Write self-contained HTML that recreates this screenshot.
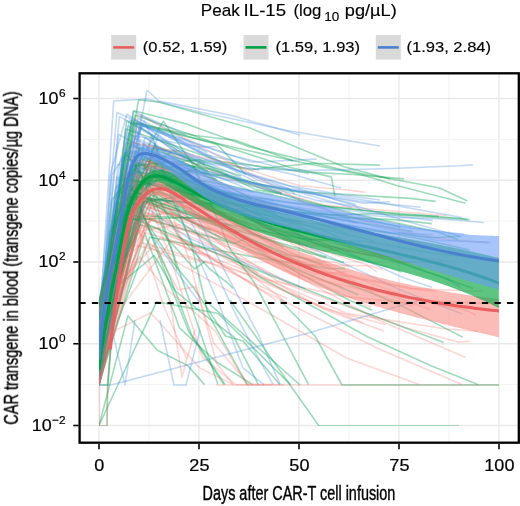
<!DOCTYPE html>
<html><head><meta charset="utf-8"><style>
html,body{margin:0;padding:0;background:#fff;}
svg{display:block;font-family:"Liberation Sans",sans-serif;}
.txt{will-change:transform;}
</style></head><body>
<svg width="520" height="506" viewBox="0 0 520 506">
<defs><filter id="soft" x="-5%" y="-5%" width="110%" height="110%"><feGaussianBlur stdDeviation="0.25"/></filter><filter id="soft3" x="0" y="0" width="100%" height="100%"><feGaussianBlur stdDeviation="0.35"/></filter><filter id="soft2" x="0" y="0" width="100%" height="100%"><feGaussianBlur stdDeviation="0.45"/></filter></defs>
<rect width="520" height="506" fill="#fff"/>
<g><line x1="99" y1="73" x2="99" y2="443" stroke="#E9E9E9" stroke-width="1.3"/><line x1="149.0" y1="73" x2="149.0" y2="443" stroke="#F3F3F3" stroke-width="1"/><line x1="199" y1="73" x2="199" y2="443" stroke="#E9E9E9" stroke-width="1.3"/><line x1="249.0" y1="73" x2="249.0" y2="443" stroke="#F3F3F3" stroke-width="1"/><line x1="299" y1="73" x2="299" y2="443" stroke="#E9E9E9" stroke-width="1.3"/><line x1="349.0" y1="73" x2="349.0" y2="443" stroke="#F3F3F3" stroke-width="1"/><line x1="399" y1="73" x2="399" y2="443" stroke="#E9E9E9" stroke-width="1.3"/><line x1="449.0" y1="73" x2="449.0" y2="443" stroke="#F3F3F3" stroke-width="1"/><line x1="499" y1="73" x2="499" y2="443" stroke="#E9E9E9" stroke-width="1.3"/><line x1="80" y1="425.50" x2="518" y2="425.50" stroke="#E9E9E9" stroke-width="1.3"/><line x1="80" y1="384.62" x2="518" y2="384.62" stroke="#F3F3F3" stroke-width="1"/><line x1="80" y1="343.75" x2="518" y2="343.75" stroke="#E9E9E9" stroke-width="1.3"/><line x1="80" y1="302.88" x2="518" y2="302.88" stroke="#F3F3F3" stroke-width="1"/><line x1="80" y1="262.00" x2="518" y2="262.00" stroke="#E9E9E9" stroke-width="1.3"/><line x1="80" y1="221.12" x2="518" y2="221.12" stroke="#F3F3F3" stroke-width="1"/><line x1="80" y1="180.25" x2="518" y2="180.25" stroke="#E9E9E9" stroke-width="1.3"/><line x1="80" y1="139.38" x2="518" y2="139.38" stroke="#F3F3F3" stroke-width="1"/><line x1="80" y1="98.50" x2="518" y2="98.50" stroke="#E9E9E9" stroke-width="1.3"/></g>
<g fill="none" stroke-width="1.6" stroke-linejoin="round" filter="url(#soft2)"><path d="M99.0,425.5 L156.7,301.7 L191.1,308.3 L218.0,313.5 L255.6,350.1 L290.5,384.6" stroke="#05A050" stroke-opacity="0.38"/><path d="M99.0,384.6 L136.9,172.9 L255.2,234.5 L271.5,242.6" stroke="#F07068" stroke-opacity="0.28"/><path d="M99.0,384.6 L139.0,149.8 L157.8,208.7 L195.5,318.2 L217.9,384.6" stroke="#05A050" stroke-opacity="0.38"/><path d="M99.0,384.6 L144.8,233.2 L179.5,327.8 L216.1,361.7 L252.7,384.6" stroke="#05A050" stroke-opacity="0.38"/><path d="M99.0,367.8 L146.1,182.9 L234.8,194.3 L288.9,202.4 L372.1,211.2 L459.9,218.3 L467.3,219.5" stroke="#05A050" stroke-opacity="0.38"/><path d="M99.0,356.3 L117.0,176.6 L139.0,214.6 L174.3,268.5 L199.8,302.9" stroke="#4A8EE0" stroke-opacity="0.33"/><path d="M99.0,310.1 L122.3,213.3 L128.3,174.4 L217.7,200.9 L281.3,209.0 L358.5,223.3" stroke="#4A8EE0" stroke-opacity="0.33"/><path d="M99.0,374.5 L151.9,149.1 L212.3,194.2 L275.7,223.0 L381.8,257.7 L444.2,277.2 L460.5,287.2" stroke="#4A8EE0" stroke-opacity="0.33"/><path d="M99.0,357.6 L116.4,198.6 L133.4,111.0 L187.3,140.6 L207.4,152.9" stroke="#4A8EE0" stroke-opacity="0.33"/><path d="M99.0,302.0 L118.9,204.0 L150.5,175.1 L203.6,202.3" stroke="#F07068" stroke-opacity="0.28"/><path d="M99.0,366.7 L126.3,196.3 L186.6,202.9" stroke="#05A050" stroke-opacity="0.38"/><path d="M99.0,307.7 L133.8,110.7 L185.2,123.6 L248.7,146.6 L344.0,170.3 L438.9,187.7 L467.5,201.0" stroke="#05A050" stroke-opacity="0.38"/><path d="M99.0,325.0 L117.2,274.4 L139.8,214.6 L176.8,213.2" stroke="#F07068" stroke-opacity="0.28"/><path d="M99.0,384.6 L139.7,148.6 L249.8,201.1 L296.4,214.6" stroke="#F07068" stroke-opacity="0.28"/><path d="M99.0,348.2 L154.5,206.8 L174.4,201.2" stroke="#F07068" stroke-opacity="0.28"/><path d="M99.0,299.9 L132.1,199.8 L232.1,204.2 L350.1,225.8 L416.2,238.0 L469.7,250.0" stroke="#05A050" stroke-opacity="0.38"/><path d="M99.0,384.6 L141.0,231.5 L210.3,250.9 L267.5,279.7 L342.0,296.1 L416.8,303.9" stroke="#F07068" stroke-opacity="0.28"/><path d="M99.0,320.9 L137.7,181.0 L237.2,204.5 L333.1,215.3 L374.2,213.5 L469.7,219.6" stroke="#05A050" stroke-opacity="0.38"/><path d="M99.0,331.1 L139.7,147.7 L219.1,175.2 L228.2,174.9" stroke="#05A050" stroke-opacity="0.38"/><path d="M99.0,384.6 L140.0,158.7 L198.3,179.3 L318.1,234.9 L378.0,254.2 L473.1,288.5" stroke="#05A050" stroke-opacity="0.38"/><path d="M99.0,320.8 L118.6,134.5 L172.7,163.1 L223.1,195.7 L277.8,214.4" stroke="#4A8EE0" stroke-opacity="0.33"/><path d="M99.0,384.6 L139.3,162.3 L222.6,194.9 L329.7,221.1 L424.6,247.6" stroke="#05A050" stroke-opacity="0.38"/><path d="M99.0,384.6 L111.6,337.3 L149.8,237.2 L257.9,257.7 L330.0,268.6 L345.1,268.4" stroke="#05A050" stroke-opacity="0.38"/><path d="M99.0,384.6 L146.9,166.1 L187.1,172.2 L243.8,213.6 L320.6,257.1 L325.9,257.7" stroke="#F07068" stroke-opacity="0.28"/><path d="M99.0,384.6 L151.3,165.7 L222.2,207.1 L290.2,238.8 L402.6,262.4 L455.5,261.0" stroke="#F07068" stroke-opacity="0.28"/><path d="M99.0,301.8 L154.1,255.5 L174.8,290.5 L201.9,312.9 L233.8,336.9 L258.4,384.6" stroke="#05A050" stroke-opacity="0.38"/><path d="M99.0,355.8 L115.9,275.9 L158.0,194.0 L243.3,262.0 L257.9,273.5" stroke="#F07068" stroke-opacity="0.28"/><path d="M99.0,384.6 L141.1,122.7 L216.0,180.0" stroke="#4A8EE0" stroke-opacity="0.33"/><path d="M99.0,335.6 L114.4,268.7 L136.9,123.1 L252.1,162.2 L316.4,159.1" stroke="#4A8EE0" stroke-opacity="0.33"/><path d="M99.0,342.5 L125.1,152.6 L225.1,179.3 L282.1,193.2" stroke="#4A8EE0" stroke-opacity="0.33"/><path d="M99.0,361.3 L140.9,221.7 L163.4,213.7 L187.1,249.6 L211.5,255.9" stroke="#F07068" stroke-opacity="0.28"/><path d="M99.0,316.7 L145.0,137.4 L231.7,192.3 L274.0,199.9" stroke="#4A8EE0" stroke-opacity="0.33"/><path d="M99.0,375.5 L125.2,193.4 L211.3,230.1" stroke="#05A050" stroke-opacity="0.38"/><path d="M99.0,384.6 L129.4,146.8 L181.5,151.1 L289.3,188.7 L295.2,194.7" stroke="#4A8EE0" stroke-opacity="0.33"/><path d="M99.0,318.9 L140.3,224.8 L159.3,229.3 L194.5,269.0 L205.2,261.4" stroke="#05A050" stroke-opacity="0.38"/><path d="M99.0,302.6 L131.4,120.5 L216.9,144.4 L245.9,174.6" stroke="#05A050" stroke-opacity="0.38"/><path d="M99.0,372.0 L126.6,120.7 L191.0,158.3 L205.2,163.1" stroke="#05A050" stroke-opacity="0.38"/><path d="M99.0,374.3 L143.9,143.3 L205.2,164.2" stroke="#4A8EE0" stroke-opacity="0.33"/><path d="M99.0,384.6 L146.6,188.9 L218.4,237.6 L265.0,259.0 L343.1,287.8" stroke="#F07068" stroke-opacity="0.28"/><path d="M99.0,307.8 L120.1,235.8 L134.2,199.2 L188.5,238.1 L266.3,272.2 L304.9,288.6" stroke="#4A8EE0" stroke-opacity="0.33"/><path d="M99.0,316.2 L159.3,131.7 L263.3,185.8 L359.0,201.1 L420.7,207.3" stroke="#4A8EE0" stroke-opacity="0.33"/><path d="M99.0,384.6 L132.0,222.7 L231.1,258.5 L325.1,309.7 L383.8,331.1" stroke="#F07068" stroke-opacity="0.28"/><path d="M99.0,333.0 L146.1,245.2 L264.3,310.8 L346.0,357.7 L419.2,384.6" stroke="#F07068" stroke-opacity="0.28"/><path d="M99.0,357.0 L129.7,198.2 L200.4,216.8 L291.1,261.5" stroke="#F07068" stroke-opacity="0.28"/><path d="M99.0,384.6 L147.4,186.8 L196.7,207.3" stroke="#F07068" stroke-opacity="0.28"/><path d="M99.0,369.6 L135.9,165.1 L213.6,197.4 L293.2,224.5" stroke="#05A050" stroke-opacity="0.38"/><path d="M99.0,304.8 L141.4,180.4 L206.5,181.1 L322.4,205.7 L400.5,214.5 L438.9,216.4" stroke="#05A050" stroke-opacity="0.38"/><path d="M99.0,342.1 L121.2,275.5 L136.6,163.1 L218.2,199.5 L273.6,217.6 L374.0,240.7" stroke="#05A050" stroke-opacity="0.38"/><path d="M99.0,335.9 L152.9,149.6 L215.5,170.4 L281.0,192.5" stroke="#05A050" stroke-opacity="0.38"/><path d="M99.0,349.3 L138.2,118.3 L204.0,154.2 L292.0,174.2 L339.1,187.6 L341.1,187.4" stroke="#4A8EE0" stroke-opacity="0.33"/><path d="M99.0,369.9 L120.7,279.8 L150.1,145.3 L231.1,179.0 L323.9,205.0 L398.8,211.5 L447.0,215.5" stroke="#F07068" stroke-opacity="0.28"/><path d="M99.0,325.9 L109.8,266.6 L155.0,188.5 L214.3,222.8 L268.8,257.1 L349.0,300.0 L372.3,310.2" stroke="#05A050" stroke-opacity="0.38"/><path d="M99.0,362.2 L122.2,157.8 L230.8,194.3 L343.6,225.1 L382.4,236.0" stroke="#4A8EE0" stroke-opacity="0.33"/><path d="M99.0,371.3 L126.7,174.2 L193.3,182.9 L276.8,212.4" stroke="#F07068" stroke-opacity="0.28"/><path d="M99.0,384.6 L151.7,173.7 L216.0,186.4 L273.6,194.6" stroke="#4A8EE0" stroke-opacity="0.33"/><path d="M99.0,352.9 L132.7,175.0 L173.6,150.9 L208.3,171.7" stroke="#05A050" stroke-opacity="0.38"/><path d="M99.0,306.7 L160.8,237.4 L253.7,273.8 L347.2,313.6 L445.9,329.0 L477.6,331.1" stroke="#F07068" stroke-opacity="0.28"/><path d="M99.0,312.2 L117.0,244.8 L132.4,200.3 L229.1,213.4 L322.6,242.4 L332.6,248.6" stroke="#F07068" stroke-opacity="0.28"/><path d="M99.0,361.2 L134.1,189.5 L162.6,265.8 L188.8,331.8 L223.9,384.6" stroke="#05A050" stroke-opacity="0.38"/><path d="M99.0,369.6 L119.4,248.1 L140.5,164.4 L230.9,202.4 L236.1,205.3" stroke="#05A050" stroke-opacity="0.38"/><path d="M99.0,384.6 L139.0,187.8 L178.8,199.1" stroke="#F07068" stroke-opacity="0.28"/><path d="M99.0,384.6 L116.6,296.6 L137.7,114.5 L189.2,140.2 L308.6,205.1 L402.6,231.6 L447.0,239.5 L487.9,242.6" stroke="#F07068" stroke-opacity="0.28"/><path d="M99.0,340.1 L154.9,210.3 L263.4,236.7 L380.2,257.0 L385.5,259.7" stroke="#F07068" stroke-opacity="0.28"/><path d="M99.0,313.3 L117.8,231.5 L148.3,156.7 L209.6,173.2" stroke="#4A8EE0" stroke-opacity="0.33"/><path d="M99.0,384.6 L141.2,125.7 L226.8,154.0 L269.7,165.1 L308.9,173.8" stroke="#4A8EE0" stroke-opacity="0.33"/><path d="M99.0,384.6 L151.7,165.8 L229.2,177.1 L291.9,191.4 L410.5,198.4 L435.7,201.4" stroke="#05A050" stroke-opacity="0.38"/><path d="M99.0,384.6 L112.1,304.6 L130.0,196.7 L221.4,224.5 L319.6,271.9 L397.9,303.9 L462.6,337.1" stroke="#05A050" stroke-opacity="0.38"/><path d="M99.0,374.4 L125.6,129.0 L221.4,161.6 L306.0,172.1 L353.2,174.5 L404.0,178.9" stroke="#05A050" stroke-opacity="0.38"/><path d="M99.0,384.6 L141.2,211.5 L193.1,232.0 L240.8,266.6 L285.9,302.3" stroke="#F07068" stroke-opacity="0.28"/><path d="M99.0,339.0 L146.4,160.4 L216.5,190.8 L285.4,207.3 L369.0,219.9 L400.5,227.4" stroke="#05A050" stroke-opacity="0.38"/><path d="M99.0,304.8 L135.7,123.2 L193.2,135.3 L235.1,140.3 L293.1,160.8" stroke="#05A050" stroke-opacity="0.38"/><path d="M99.0,358.3 L140.6,188.1 L236.2,219.4 L324.3,245.4 L403.5,259.1" stroke="#F07068" stroke-opacity="0.28"/><path d="M99.0,350.5 L109.1,234.3 L128.6,132.8 L200.0,186.7 L312.5,240.8" stroke="#4A8EE0" stroke-opacity="0.33"/><path d="M99.0,314.7 L142.3,162.2 L216.5,188.8 L277.5,204.9" stroke="#4A8EE0" stroke-opacity="0.33"/><path d="M99.0,310.3 L133.3,178.9 L178.3,193.2" stroke="#05A050" stroke-opacity="0.38"/><path d="M99.0,361.0 L118.7,237.0 L141.7,210.6 L214.8,237.9 L276.1,280.2 L333.5,301.5 L404.2,327.3 L457.9,342.0 L469.8,341.4" stroke="#F07068" stroke-opacity="0.28"/><path d="M99.0,354.9 L134.9,151.3 L249.5,183.1 L364.1,203.2 L389.8,201.8" stroke="#4A8EE0" stroke-opacity="0.33"/><path d="M99.0,320.0 L146.7,160.5 L258.9,223.5 L374.9,293.9 L412.8,306.6" stroke="#F07068" stroke-opacity="0.28"/><path d="M99.0,302.3 L147.7,206.3 L260.4,254.2 L308.1,268.9 L409.9,288.6 L482.9,291.2" stroke="#F07068" stroke-opacity="0.28"/><path d="M99.0,311.8 L135.1,204.3 L172.4,262.0 L194.0,288.2 L225.5,336.0 L243.0,341.1 L279.8,384.6" stroke="#05A050" stroke-opacity="0.38"/><path d="M99.0,369.2 L141.2,174.4 L184.7,197.0 L278.8,247.6 L330.2,269.4" stroke="#F07068" stroke-opacity="0.28"/><path d="M99.0,370.3 L112.2,199.5 L154.5,145.8 L207.5,165.6 L256.1,189.9 L281.9,193.9" stroke="#05A050" stroke-opacity="0.38"/><path d="M99.0,384.6 L133.1,169.4 L216.8,197.9 L277.3,222.6 L368.5,247.4" stroke="#05A050" stroke-opacity="0.38"/><path d="M99.0,320.0 L147.1,175.4 L247.0,226.9 L275.4,239.4" stroke="#F07068" stroke-opacity="0.28"/><path d="M99.0,366.7 L125.0,177.9 L206.9,220.0 L220.3,221.4" stroke="#05A050" stroke-opacity="0.38"/><path d="M99.0,370.9 L116.6,202.2 L135.6,152.6 L236.2,203.4 L326.4,231.8 L340.8,238.2" stroke="#05A050" stroke-opacity="0.38"/><path d="M99.0,366.0 L140.2,139.9 L184.9,158.5" stroke="#4A8EE0" stroke-opacity="0.33"/><path d="M99.0,326.0 L131.0,188.5 L212.9,233.7 L268.2,257.5 L358.4,294.8" stroke="#05A050" stroke-opacity="0.38"/><path d="M99.0,384.6 L117.0,300.5 L138.0,151.3 L197.2,199.8 L288.8,271.6 L375.6,318.8 L465.7,357.4" stroke="#F07068" stroke-opacity="0.28"/><path d="M99.0,323.8 L140.8,165.2 L228.6,209.3" stroke="#F07068" stroke-opacity="0.28"/><path d="M99.0,371.6 L112.9,218.2 L158.0,149.4 L251.8,199.0" stroke="#05A050" stroke-opacity="0.38"/><path d="M99.0,318.7 L152.7,196.2 L199.1,163.1 L241.2,176.1" stroke="#05A050" stroke-opacity="0.38"/><path d="M99.0,324.8 L118.2,197.3 L163.4,121.2 L193.2,165.1 L209.8,201.2 L229.9,248.7 L253.7,281.7 L282.8,335.8 L308.5,384.6" stroke="#05A050" stroke-opacity="0.38"/><path d="M99.0,384.6 L109.7,242.8 L152.8,182.1 L230.0,215.7 L290.0,252.6 L351.3,275.9 L418.9,300.4 L466.4,310.1 L475.7,315.1" stroke="#F07068" stroke-opacity="0.28"/><path d="M99.0,384.6 L109.3,267.9 L149.2,171.1 L193.2,190.2 L265.5,232.8 L382.8,269.8" stroke="#F07068" stroke-opacity="0.28"/><path d="M99.0,384.6 L114.0,244.7 L128.1,158.6 L171.9,166.8" stroke="#F07068" stroke-opacity="0.28"/><path d="M99.0,351.5 L119.6,214.1 L135.0,183.5 L249.4,197.7 L351.5,210.7 L432.7,220.4" stroke="#4A8EE0" stroke-opacity="0.33"/><path d="M99.0,329.5 L111.5,289.9 L133.0,214.3 L174.9,199.5 L185.4,207.5" stroke="#F07068" stroke-opacity="0.28"/><path d="M99.0,425.5 L127.9,315.8 L157.4,350.2 L187.8,365.6 L204.5,384.6" stroke="#05A050" stroke-opacity="0.38"/><path d="M99.0,384.6 L113.3,282.5 L159.9,170.5 L181.4,164.3" stroke="#05A050" stroke-opacity="0.38"/><path d="M99.0,337.3 L124.4,155.7 L211.2,169.4 L264.8,189.8 L356.1,214.3 L436.5,231.6 L458.2,239.8" stroke="#05A050" stroke-opacity="0.38"/><path d="M99.0,306.5 L132.5,122.9 L189.4,137.1 L235.9,147.7 L291.9,160.5 L362.1,174.7 L397.6,185.7 L465.6,203.2" stroke="#05A050" stroke-opacity="0.38"/><path d="M99.0,326.8 L115.4,188.7 L139.5,159.2 L189.7,170.1 L218.2,175.6" stroke="#4A8EE0" stroke-opacity="0.33"/><path d="M99.0,384.6 L144.7,144.0 L171.0,185.3 L202.8,243.8 L233.3,309.3 L255.8,353.3 L273.1,384.6" stroke="#4A8EE0" stroke-opacity="0.33"/><path d="M99.0,320.7 L131.6,142.2 L207.5,162.3 L251.7,182.9 L368.9,200.8 L462.1,217.5" stroke="#4A8EE0" stroke-opacity="0.33"/><path d="M99.0,373.8 L113.1,236.4 L145.7,194.7 L169.7,255.2 L202.1,356.8 L235.8,384.6 L271.9,384.6" stroke="#F07068" stroke-opacity="0.28"/><path d="M99.0,331.6 L113.2,251.6 L162.7,211.3 L277.8,253.8 L338.0,263.3 L348.7,266.9" stroke="#F07068" stroke-opacity="0.28"/><path d="M99.0,351.9 L141.4,114.9 L186.3,135.3" stroke="#4A8EE0" stroke-opacity="0.33"/><path d="M99.0,317.7 L133.5,135.8 L199.9,146.9 L216.6,146.7" stroke="#4A8EE0" stroke-opacity="0.33"/><path d="M99.0,384.6 L139.7,181.8 L214.8,200.6 L297.4,212.6 L346.8,215.7" stroke="#05A050" stroke-opacity="0.38"/><path d="M99.0,306.7 L125.3,185.4 L215.3,204.5" stroke="#05A050" stroke-opacity="0.38"/><path d="M99.0,345.5 L112.1,273.7 L133.4,203.0 L180.0,217.0 L245.6,245.4 L315.7,266.1" stroke="#F07068" stroke-opacity="0.28"/><path d="M99.0,322.3 L119.1,269.9 L129.4,189.7 L202.0,220.0 L288.1,254.3 L322.5,263.7" stroke="#05A050" stroke-opacity="0.38"/><path d="M99.0,344.6 L122.2,209.5 L136.9,172.2 L226.6,196.3" stroke="#F07068" stroke-opacity="0.28"/><path d="M99.0,328.8 L119.5,116.6 L229.4,175.6 L324.2,208.5 L355.6,222.8" stroke="#4A8EE0" stroke-opacity="0.33"/><path d="M99.0,384.6 L141.6,215.8 L231.6,219.7 L251.4,229.0" stroke="#05A050" stroke-opacity="0.38"/><path d="M99.0,384.6 L133.6,122.5 L246.6,166.2 L259.0,170.5" stroke="#4A8EE0" stroke-opacity="0.33"/><path d="M99.0,328.7 L135.8,202.1 L211.4,218.1 L299.0,273.7 L371.4,307.4" stroke="#F07068" stroke-opacity="0.28"/><path d="M99.0,363.8 L134.2,228.3 L155.2,248.2 L178.1,290.0 L195.6,286.6 L213.7,343.0 L248.9,384.6" stroke="#F07068" stroke-opacity="0.28"/><path d="M99.0,370.8 L115.6,198.3 L144.1,120.6 L172.4,182.1 L200.3,222.4 L225.3,271.8 L258.3,334.5 L280.1,384.6" stroke="#4A8EE0" stroke-opacity="0.33"/><path d="M99.0,315.1 L109.2,269.5 L135.7,245.3 L213.1,264.3 L287.0,298.5" stroke="#F07068" stroke-opacity="0.28"/><path d="M99.0,305.9 L132.2,151.2 L224.4,165.9 L288.7,185.6 L345.3,195.4 L380.1,200.0" stroke="#4A8EE0" stroke-opacity="0.33"/><path d="M99.0,304.1 L109.6,258.9 L126.3,172.2 L206.1,205.9 L302.0,263.3 L394.0,296.4 L430.6,309.8" stroke="#F07068" stroke-opacity="0.28"/><path d="M99.0,321.2 L158.3,161.8 L214.3,189.4 L330.8,217.1 L394.0,219.6 L431.8,223.6" stroke="#05A050" stroke-opacity="0.38"/><path d="M99.0,374.0 L110.2,174.7 L126.9,114.0 L213.9,172.1 L315.5,200.1 L355.5,206.4 L362.6,211.1" stroke="#4A8EE0" stroke-opacity="0.33"/><path d="M99.0,341.1 L154.8,144.2 L170.9,195.7 L191.0,242.2 L207.8,313.1 L247.1,384.6" stroke="#05A050" stroke-opacity="0.38"/><path d="M99.0,317.2 L117.0,112.4 L179.0,139.5 L238.9,171.5 L320.1,195.1 L407.4,221.5 L461.5,236.7" stroke="#4A8EE0" stroke-opacity="0.33"/><path d="M99.0,360.6 L127.4,185.7 L213.9,245.0 L259.4,276.8 L367.4,336.7 L431.6,366.1 L477.9,384.6" stroke="#05A050" stroke-opacity="0.38"/><path d="M99.0,318.6 L151.8,134.8 L185.2,227.9 L219.3,305.1 L242.9,367.8 L263.9,384.6" stroke="#4A8EE0" stroke-opacity="0.33"/><path d="M99.0,357.9 L140.3,161.5 L207.0,192.2 L315.4,242.6 L369.0,255.0 L442.2,259.9" stroke="#F07068" stroke-opacity="0.28"/><path d="M99.0,325.5 L120.0,162.2 L129.5,119.9 L185.6,158.1" stroke="#4A8EE0" stroke-opacity="0.33"/><path d="M99.0,321.9 L135.3,231.8 L180.2,224.7" stroke="#F07068" stroke-opacity="0.28"/><path d="M99.0,384.6 L130.4,143.5 L250.3,219.6 L306.8,246.0 L398.8,289.3 L462.1,313.9" stroke="#4A8EE0" stroke-opacity="0.33"/><path d="M99.0,305.6 L135.0,115.2 L224.4,146.2 L289.2,167.2 L331.3,176.9 L334.9,196.2" stroke="#05A050" stroke-opacity="0.38"/><path d="M99.0,308.3 L114.2,236.0 L155.9,173.5 L255.1,233.8 L283.5,247.2" stroke="#05A050" stroke-opacity="0.38"/><path d="M99.0,320.9 L138.8,148.4 L188.6,181.0" stroke="#05A050" stroke-opacity="0.38"/><path d="M99.0,372.7 L149.0,164.6 L199.5,180.4 L206.9,184.4" stroke="#F07068" stroke-opacity="0.28"/><path d="M99.0,384.6 L123.0,260.2 L146.1,198.3 L214.6,206.7 L254.8,218.1 L300.3,221.1" stroke="#4A8EE0" stroke-opacity="0.33"/><path d="M99.0,352.7 L132.4,165.8 L199.5,159.7 L251.5,169.6 L313.4,163.3 L380.1,165.1" stroke="#05A050" stroke-opacity="0.38"/><path d="M99.0,346.0 L155.8,163.1 L216.6,179.2" stroke="#05A050" stroke-opacity="0.38"/><path d="M99.0,335.5 L110.8,290.8 L140.5,214.2 L248.8,254.4 L295.7,274.8 L360.9,289.2 L429.0,300.3 L489.2,303.9" stroke="#F07068" stroke-opacity="0.28"/><path d="M99.0,338.9 L119.8,284.5 L139.6,256.9 L166.7,289.7 L187.3,305.7 L215.3,331.2 L246.8,384.6 L284.2,384.6" stroke="#F07068" stroke-opacity="0.28"/><path d="M99.0,384.6 L115.2,261.8 L142.4,181.1 L209.6,195.5 L269.1,207.1 L323.0,216.3 L412.7,231.6" stroke="#05A050" stroke-opacity="0.38"/><path d="M99.0,320.8 L114.2,228.8 L140.5,175.2 L219.7,214.2" stroke="#F07068" stroke-opacity="0.28"/><path d="M99.0,330.5 L152.3,181.7 L230.2,226.2" stroke="#4A8EE0" stroke-opacity="0.33"/><path d="M99.0,348.9 L147.6,183.7 L192.4,170.3 L197.1,169.6" stroke="#05A050" stroke-opacity="0.38"/><path d="M99.0,370.3 L148.4,174.5 L251.8,226.5" stroke="#F07068" stroke-opacity="0.28"/><path d="M99.0,324.1 L116.0,198.4 L125.7,142.3 L237.4,184.5 L253.0,192.2" stroke="#4A8EE0" stroke-opacity="0.33"/><path d="M99.0,327.9 L133.4,195.4 L253.0,247.5 L331.1,272.2 L422.3,290.3 L435.9,291.3" stroke="#F07068" stroke-opacity="0.28"/><path d="M99.0,384.6 L154.1,153.1 L261.5,201.8 L355.3,231.9 L420.7,242.7" stroke="#F07068" stroke-opacity="0.28"/><path d="M99.0,318.5 L125.3,152.2 L159.0,200.2 L178.6,235.6 L209.1,268.3 L229.0,284.2 L233.0,288.5" stroke="#05A050" stroke-opacity="0.38"/><path d="M99.0,358.7 L119.7,263.7 L137.1,145.0 L249.6,168.7 L310.0,170.6 L391.6,168.5 L459.5,165.7 L473.2,164.7" stroke="#4A8EE0" stroke-opacity="0.33"/><path d="M99.0,330.7 L117.0,233.9 L125.4,212.7 L233.6,243.5 L245.2,239.0" stroke="#05A050" stroke-opacity="0.38"/><path d="M99.0,384.6 L149.9,157.4 L188.8,258.1 L216.4,362.8 L232.9,384.6" stroke="#F07068" stroke-opacity="0.28"/><path d="M99.0,342.6 L133.7,192.9 L170.9,279.6 L191.6,334.8 L225.2,384.6" stroke="#05A050" stroke-opacity="0.38"/><path d="M99.0,333.8 L114.7,206.1 L137.1,171.4 L187.6,178.5 L235.9,194.7 L312.2,212.2 L412.7,228.4 L464.1,234.3" stroke="#4A8EE0" stroke-opacity="0.33"/><path d="M99.0,336.2 L134.7,197.7 L211.1,209.6 L315.4,251.2 L341.2,249.9" stroke="#F07068" stroke-opacity="0.28"/><path d="M99.0,363.2 L130.9,217.2 L250.0,267.3 L353.3,308.1 L443.7,342.6" stroke="#05A050" stroke-opacity="0.38"/><path d="M99.0,361.6 L112.9,240.9 L143.8,199.4 L211.4,196.6 L274.2,224.7" stroke="#F07068" stroke-opacity="0.28"/><path d="M99.0,341.3 L128.2,125.7 L198.0,175.6" stroke="#4A8EE0" stroke-opacity="0.33"/><path d="M99.0,315.9 L135.2,199.6 L214.2,232.1 L220.5,239.3" stroke="#F07068" stroke-opacity="0.28"/><path d="M99.0,344.7 L150.1,156.6 L232.1,222.7 L258.7,235.7" stroke="#F07068" stroke-opacity="0.28"/><path d="M99.0,350.3 L110.0,232.8 L123.0,205.4 L195.4,193.7 L247.1,216.3" stroke="#05A050" stroke-opacity="0.38"/><path d="M99.0,373.0 L146.2,197.5 L235.7,239.8" stroke="#F07068" stroke-opacity="0.28"/><path d="M99.0,384.6 L133.2,171.3 L222.3,196.3 L333.4,212.8 L394.0,217.2 L438.7,218.8 L483.9,222.5" stroke="#4A8EE0" stroke-opacity="0.33"/><path d="M99.0,384.6 L109.4,274.5 L142.1,242.7 L252.5,275.4 L324.0,308.6 L385.3,324.4" stroke="#F07068" stroke-opacity="0.28"/><path d="M99.0,325.6 L131.4,142.1 L223.2,161.7 L299.8,185.8 L345.3,189.8 L365.6,192.4" stroke="#F07068" stroke-opacity="0.28"/><path d="M99.0,310.0 L118.1,220.0 L191.9,217.4 L306.1,239.4 L366.5,241.4 L431.8,252.9 L478.7,258.8" stroke="#05A050" stroke-opacity="0.38"/><path d="M99.0,373.0 L124.7,178.7 L206.2,197.8 L273.6,228.7 L342.7,252.9 L402.1,272.0" stroke="#05A050" stroke-opacity="0.38"/><path d="M99.0,311.4 L126.4,191.6 L163.5,305.5 L186.5,358.6" stroke="#F07068" stroke-opacity="0.28"/><path d="M99.0,334.7 L145.7,215.5 L260.3,289.2 L377.4,348.2 L461.8,384.6" stroke="#F07068" stroke-opacity="0.28"/><path d="M99.0,356.6 L112.0,174.7 L143.6,125.1 L260.4,181.1 L352.2,207.7" stroke="#4A8EE0" stroke-opacity="0.33"/><path d="M99.0,310.2 L130.2,181.4 L189.6,208.5 L209.1,221.6" stroke="#F07068" stroke-opacity="0.28"/><path d="M99.0,384.6 L122.5,305.9 L170.8,241.2 L280.8,289.8 L362.8,322.8" stroke="#F07068" stroke-opacity="0.28"/><path d="M99.0,384.6 L118.9,189.7 L139.5,126.4 L176.1,152.4" stroke="#4A8EE0" stroke-opacity="0.33"/><path d="M99.0,337.0 L109.6,277.6 L153.1,167.2 L252.6,203.9 L364.2,224.0 L435.1,240.2 L490.8,242.4" stroke="#4A8EE0" stroke-opacity="0.33"/><path d="M99.0,384.6 L155.5,161.7 L264.9,227.7 L376.6,252.9 L422.1,268.3" stroke="#F07068" stroke-opacity="0.28"/><path d="M99.0,384.6 L114.0,280.2 L150.1,219.1 L259.1,266.7 L290.8,284.4" stroke="#F07068" stroke-opacity="0.28"/><path d="M99.0,347.7 L118.1,262.1 L129.8,196.7 L207.7,204.2 L324.7,225.7 L434.4,237.7 L460.1,236.2" stroke="#05A050" stroke-opacity="0.38"/><path d="M99.0,370.5 L155.5,191.0 L243.9,239.0 L301.1,264.5 L367.9,265.8 L376.8,271.9" stroke="#F07068" stroke-opacity="0.28"/><path d="M99.0,359.2 L112.0,236.5 L137.7,154.0 L218.3,191.1 L282.2,209.5 L346.8,233.5" stroke="#05A050" stroke-opacity="0.38"/><path d="M99.0,355.8 L119.8,285.0 L130.0,212.7 L213.3,238.9 L315.0,273.9 L347.4,271.9" stroke="#F07068" stroke-opacity="0.28"/><path d="M99.0,351.1 L142.9,191.1 L216.1,224.4 L301.9,249.3 L326.6,256.9" stroke="#05A050" stroke-opacity="0.38"/><path d="M99.0,322.4 L121.6,211.5 L144.2,150.2 L232.2,209.7 L280.0,212.6 L390.0,232.4 L432.7,234.8" stroke="#4A8EE0" stroke-opacity="0.33"/><path d="M99.0,362.1 L116.3,329.9 L150.6,312.7 L173.2,338.0 L199.6,367.9 L233.5,384.6" stroke="#F07068" stroke-opacity="0.28"/><path d="M99.0,384.6 L145.6,223.6 L186.2,242.5 L276.4,300.1" stroke="#F07068" stroke-opacity="0.28"/><path d="M99.0,343.8 L118.1,164.4 L161.2,172.7 L249.2,219.3 L340.1,248.8 L403.5,277.7 L431.8,287.2" stroke="#4A8EE0" stroke-opacity="0.33"/><path d="M99.0,375.6 L140.0,171.9 L172.2,251.3 L177.1,270.4" stroke="#05A050" stroke-opacity="0.38"/><path d="M99.0,370.7 L115.7,267.1 L131.6,193.9 L246.0,230.9 L286.3,246.7 L344.0,262.5" stroke="#05A050" stroke-opacity="0.38"/><path d="M99.0,356.4 L127.3,151.0 L216.4,177.0 L311.2,193.2 L355.6,204.4" stroke="#4A8EE0" stroke-opacity="0.33"/><path d="M99.0,330.0 L113.7,101.0 L147.0,99.0 L200.0,112.0 L290.0,131.0 L380.0,146.0" stroke="#4A8EE0" stroke-opacity="0.33"/><path d="M99.0,340.0 L147.0,90.0 L159.0,101.0 L230.0,115.0 L300.0,135.0" stroke="#4A8EE0" stroke-opacity="0.33"/><path d="M99.0,320.0 L138.6,100.0 L158.8,102.0 L250.0,128.0 L344.0,166.7 L390.0,179.0" stroke="#05A050" stroke-opacity="0.38"/><path d="M216.0,385.0 L499.0,385.0" stroke="#F07068" stroke-opacity="0.28"/><path d="M342.0,385.0 L499.0,385.0" stroke="#05A050" stroke-opacity="0.38"/><path d="M230.0,300.0 L300.0,399.0 L319.0,426.0 L459.0,426.0" stroke="#05A050" stroke-opacity="0.38"/><path d="M205.0,300.0 L300.0,385.0" stroke="#05A050" stroke-opacity="0.38"/><path d="M280.0,300.0 L315.0,336.0 L342.0,385.0" stroke="#05A050" stroke-opacity="0.38"/><path d="M99.0,385.0 L111.0,385.0 L305.0,334.0 L420.0,300.0" stroke="#4A8EE0" stroke-opacity="0.33"/><path d="M99.0,426.0 L107.0,426.0 L107.5,385.0 L112.0,330.0" stroke="#05A050" stroke-opacity="0.38"/><path d="M99.0,426.0 L107.0,426.0 L108.0,380.0 L115.0,300.0" stroke="#F07068" stroke-opacity="0.28"/><path d="M99.3,426.0 L99.6,340.0" stroke="#F07068" stroke-opacity="0.28"/><path d="M99.0,385.0 L108.0,385.0 L113.0,320.0" stroke="#05A050" stroke-opacity="0.38"/><path d="M112.0,330.0 L125.0,385.0 L135.0,320.0" stroke="#4A8EE0" stroke-opacity="0.33"/><path d="M160.0,320.0 L174.0,385.0 L186.0,385.0 L200.0,330.0" stroke="#4A8EE0" stroke-opacity="0.33"/><path d="M170.0,300.0 L182.0,377.0 L195.0,330.0" stroke="#F07068" stroke-opacity="0.28"/></g>
<g filter="url(#soft3)"><path d="M116.0,293.3 L116.3,291.2 L116.6,289.1 L116.9,287.1 L117.2,285.0 L117.5,282.9 L117.8,280.8 L118.1,278.7 L118.4,276.6 L118.7,274.5 L119.1,272.4 L119.4,270.3 L119.7,268.2 L120.0,266.1 L120.4,264.0 L120.7,261.9 L121.1,259.8 L121.4,257.6 L121.8,255.5 L122.2,253.3 L122.5,251.2 L122.9,249.0 L123.3,246.8 L123.7,244.7 L124.1,242.5 L124.5,240.2 L124.9,238.0 L125.3,235.8 L125.7,233.6 L126.1,231.3 L126.6,229.1 L127.1,226.8 L127.6,224.6 L128.1,222.4 L128.7,220.2 L129.3,218.0 L129.9,215.8 L130.6,213.7 L131.4,211.6 L132.2,209.5 L133.0,207.4 L133.9,205.4 L134.9,203.4 L135.9,201.5 L137.0,199.7 L138.2,197.8 L139.4,196.1 L140.8,194.4 L142.2,192.7 L143.7,191.2 L145.2,189.7 L146.9,188.3 L148.5,187.1 L150.2,186.0 L152.0,184.8 L153.8,183.8 L155.6,183.1 L157.4,182.5 L159.3,182.1 L161.1,182.0 L163.0,182.1 L164.9,182.3 L166.7,182.7 L168.6,183.2 L170.5,183.9 L172.4,184.6 L174.3,185.5 L176.2,186.5 L178.1,187.5 L180.0,188.5 L181.9,189.6 L183.8,190.7 L185.7,191.8 L187.5,192.9 L189.4,194.0 L191.3,195.1 L193.2,196.2 L195.1,197.3 L196.9,198.4 L198.8,199.5 L200.7,200.6 L202.6,201.7 L204.4,202.8 L206.3,203.9 L208.2,205.0 L210.0,206.1 L211.9,207.1 L213.8,208.2 L215.6,209.3 L217.5,210.4 L219.4,211.4 L221.2,212.5 L223.1,213.6 L225.0,214.6 L226.8,215.7 L228.7,216.7 L230.5,217.8 L232.4,218.8 L234.3,219.8 L236.2,220.9 L238.0,221.9 L239.9,222.9 L241.8,223.9 L243.6,224.9 L245.5,225.9 L247.4,226.9 L249.3,227.9 L251.2,228.9 L253.1,229.9 L254.9,230.8 L256.8,231.8 L258.7,232.8 L260.6,233.7 L262.5,234.7 L264.4,235.6 L266.4,236.5 L268.3,237.5 L270.2,238.4 L272.1,239.3 L274.0,240.2 L276.0,241.1 L277.9,242.0 L279.8,242.9 L281.8,243.8 L283.7,244.7 L285.7,245.5 L287.7,246.4 L289.6,247.2 L291.6,248.1 L293.6,248.9 L295.6,249.7 L297.5,250.6 L299.5,251.4 L301.5,252.2 L303.5,253.0 L305.5,253.8 L307.6,254.6 L309.6,255.4 L311.6,256.1 L313.6,256.9 L315.6,257.6 L317.7,258.4 L319.7,259.1 L321.8,259.9 L323.8,260.6 L325.8,261.3 L327.9,262.1 L330.0,262.8 L332.0,263.5 L334.1,264.2 L336.1,264.8 L338.2,265.5 L340.3,266.2 L342.4,266.9 L344.4,267.5 L346.5,268.2 L348.6,268.8 L350.7,269.5 L352.8,270.1 L354.9,270.7 L357.0,271.3 L359.1,272.0 L361.2,272.6 L363.3,273.2 L365.4,273.8 L367.5,274.4 L369.6,274.9 L371.8,275.5 L373.9,276.1 L376.0,276.6 L378.1,277.2 L380.2,277.7 L382.4,278.3 L384.5,278.8 L386.6,279.3 L388.7,279.9 L390.9,280.4 L393.0,280.9 L395.1,281.4 L397.3,281.9 L399.4,282.4 L401.6,282.9 L403.7,283.4 L405.8,283.8 L408.0,284.3 L410.1,284.8 L412.3,285.2 L414.4,285.7 L416.5,286.1 L418.7,286.5 L420.8,287.0 L423.0,287.4 L425.1,287.8 L427.3,288.2 L429.4,288.6 L431.6,289.0 L433.7,289.4 L435.9,289.8 L438.0,290.2 L440.2,290.6 L442.3,291.0 L444.4,291.3 L446.6,291.7 L448.7,292.1 L450.9,292.4 L453.0,292.8 L455.2,293.1 L457.3,293.4 L459.4,293.8 L461.6,294.1 L463.7,294.4 L465.9,294.7 L468.0,295.0 L470.1,295.3 L472.3,295.6 L474.4,295.9 L476.5,296.2 L478.6,296.5 L480.8,296.8 L482.9,297.1 L485.0,297.3 L487.1,297.6 L489.3,297.9 L491.4,298.1 L493.5,298.4 L495.6,298.6 L497.7,298.9 L498.8,299.0 L498.8,337.2 L497.7,336.9 L495.6,336.4 L493.5,335.9 L491.4,335.4 L489.3,335.0 L487.1,334.5 L485.0,334.0 L482.9,333.5 L480.8,333.0 L478.6,332.5 L476.5,332.0 L474.4,331.5 L472.3,331.0 L470.1,330.5 L468.0,330.0 L465.9,329.5 L463.7,329.0 L461.6,328.5 L459.4,328.0 L457.3,327.5 L455.2,327.0 L453.0,326.4 L450.9,325.9 L448.7,325.4 L446.6,324.9 L444.4,324.4 L442.3,323.9 L440.2,323.3 L438.0,322.8 L435.9,322.3 L433.7,321.8 L431.6,321.2 L429.4,320.7 L427.3,320.1 L425.1,319.6 L423.0,319.1 L420.8,318.5 L418.7,318.0 L416.5,317.4 L414.4,316.9 L412.3,316.3 L410.1,315.7 L408.0,315.2 L405.8,314.6 L403.7,314.0 L401.6,313.5 L399.4,312.9 L397.3,312.3 L395.1,311.7 L393.0,311.1 L390.9,310.5 L388.7,309.9 L386.6,309.3 L384.5,308.7 L382.4,308.1 L380.2,307.5 L378.1,306.9 L376.0,306.2 L373.9,305.6 L371.8,305.0 L369.6,304.3 L367.5,303.7 L365.4,303.0 L363.3,302.4 L361.2,301.7 L359.1,301.0 L357.0,300.3 L354.9,299.7 L352.8,299.0 L350.7,298.3 L348.6,297.6 L346.5,296.9 L344.4,296.2 L342.4,295.5 L340.3,294.7 L338.2,294.0 L336.1,293.3 L334.1,292.5 L332.0,291.8 L330.0,291.0 L327.9,290.3 L325.8,289.5 L323.8,288.7 L321.8,288.0 L319.7,287.2 L317.7,286.4 L315.6,285.6 L313.6,284.8 L311.6,284.0 L309.6,283.1 L307.6,282.3 L305.5,281.5 L303.5,280.6 L301.5,279.8 L299.5,278.9 L297.5,278.0 L295.6,277.1 L293.6,276.3 L291.6,275.4 L289.6,274.5 L287.7,273.5 L285.7,272.6 L283.7,271.7 L281.8,270.8 L279.8,269.8 L277.9,268.9 L276.0,267.9 L274.0,266.9 L272.1,265.9 L270.2,264.9 L268.3,263.9 L266.4,262.9 L264.4,261.9 L262.5,260.9 L260.6,259.9 L258.7,258.8 L256.8,257.8 L254.9,256.7 L253.1,255.6 L251.2,254.6 L249.3,253.5 L247.4,252.4 L245.5,251.3 L243.6,250.2 L241.8,249.0 L239.9,247.9 L238.0,246.8 L236.2,245.6 L234.3,244.5 L232.4,243.3 L230.5,242.1 L228.7,240.9 L226.8,239.7 L225.0,238.5 L223.1,237.3 L221.2,236.1 L219.4,234.8 L217.5,233.6 L215.6,232.3 L213.8,231.1 L211.9,229.8 L210.0,228.5 L208.2,227.2 L206.3,225.9 L204.4,224.6 L202.6,223.3 L200.7,221.9 L198.8,220.6 L196.9,219.2 L195.1,217.9 L193.2,216.5 L191.3,215.1 L189.4,213.7 L187.5,212.3 L185.7,210.9 L183.8,209.4 L181.9,208.0 L180.0,206.5 L178.1,205.1 L176.2,203.7 L174.3,202.3 L172.4,201.1 L170.5,199.9 L168.6,198.8 L166.7,197.8 L164.9,196.9 L163.0,196.2 L161.1,195.6 L159.3,195.3 L157.4,195.1 L155.6,195.1 L153.8,195.3 L152.0,195.8 L150.2,196.4 L148.5,197.4 L146.9,198.6 L145.2,199.9 L143.7,201.4 L142.2,203.0 L140.8,204.6 L139.4,206.3 L138.2,208.1 L137.0,209.9 L135.9,211.8 L134.9,213.7 L133.9,215.7 L133.0,217.7 L132.2,219.7 L131.4,221.8 L130.6,223.9 L129.9,226.1 L129.3,228.2 L128.7,230.4 L128.1,232.6 L127.6,234.8 L127.1,237.1 L126.6,239.3 L126.1,241.6 L125.7,243.8 L125.3,246.0 L124.9,248.3 L124.5,250.5 L124.1,252.7 L123.7,254.9 L123.3,257.1 L122.9,259.3 L122.5,261.4 L122.2,263.6 L121.8,265.7 L121.4,267.9 L121.1,270.0 L120.7,272.1 L120.4,274.3 L120.0,276.4 L119.7,278.5 L119.4,280.6 L119.1,282.7 L118.7,284.8 L118.4,286.9 L118.1,289.0 L117.8,291.0 L117.5,293.1 L117.2,295.2 L116.9,297.3 L116.6,299.4 L116.3,301.5 L116.0,303.6Z" fill="#F8857D" fill-opacity="0.55"/><path d="M110.6,348.2 L111.0,343.7 L111.4,339.2 L111.8,334.7 L112.3,330.3 L112.7,325.9 L113.2,321.6 L113.7,317.3 L114.2,313.1 L114.7,308.8 L115.2,304.6 L115.8,300.4 L116.3,296.2 L116.9,292.1 L117.5,287.9 L118.1,283.7 L118.7,279.5 L119.4,275.3 L120.0,271.1 L120.7,266.9 L121.4,262.6 L122.2,258.3 L122.9,254.0 L123.7,249.7 L124.5,245.2 L125.3,240.8 L126.1,236.3 L127.1,231.8 L128.1,227.4 L129.3,223.0 L130.6,218.7 L132.2,214.5 L133.9,210.4 L135.9,206.5 L138.2,202.8 L140.8,199.4 L143.7,196.2 L146.9,193.3 L150.2,191.1 L153.8,189.4 L157.4,188.6 L161.1,188.7 L164.9,189.4 L168.6,190.8 L172.4,192.7 L176.2,194.9 L180.0,197.3 L183.8,199.8 L187.5,202.4 L191.3,204.9 L195.1,207.3 L198.8,209.8 L202.6,212.2 L206.3,214.6 L210.0,217.0 L213.8,219.3 L217.5,221.7 L221.2,224.0 L225.0,226.2 L228.7,228.5 L232.4,230.7 L236.2,232.8 L239.9,235.0 L243.6,237.1 L247.4,239.2 L251.2,241.3 L254.9,243.3 L258.7,245.3 L262.5,247.3 L266.4,249.2 L270.2,251.1 L274.0,253.0 L277.9,254.9 L281.8,256.7 L285.7,258.5 L289.6,260.2 L293.6,261.9 L297.5,263.6 L301.5,265.2 L305.5,266.9 L309.6,268.4 L313.6,270.0 L317.7,271.5 L321.8,273.0 L325.8,274.5 L330.0,275.9 L334.1,277.3 L338.2,278.7 L342.4,280.0 L346.5,281.3 L350.7,282.6 L354.9,283.8 L359.1,285.0 L363.3,286.2 L367.5,287.4 L371.8,288.5 L376.0,289.6 L380.2,290.7 L384.5,291.8 L388.7,292.8 L393.0,293.8 L397.3,294.8 L401.6,295.7 L405.8,296.7 L410.1,297.6 L414.4,298.4 L418.7,299.3 L423.0,300.1 L427.3,300.9 L431.6,301.7 L435.9,302.4 L440.2,303.2 L444.4,303.9 L448.7,304.6 L453.0,305.2 L457.3,305.9 L461.6,306.5 L465.9,307.1 L470.1,307.6 L474.4,308.2 L478.6,308.7 L482.9,309.2 L487.1,309.7 L491.4,310.2 L495.6,310.6 L498.8,311.0" stroke="#E8605E" stroke-width="3" fill="none" stroke-linejoin="round" stroke-linecap="round"/><path d="M116.0,264.0 L116.5,261.8 L116.9,259.6 L117.3,257.3 L117.8,255.1 L118.2,252.8 L118.6,250.5 L119.0,248.3 L119.5,246.0 L119.9,243.7 L120.3,241.5 L120.7,239.2 L121.2,236.9 L121.6,234.6 L122.0,232.3 L122.4,230.0 L122.9,227.7 L123.3,225.4 L123.8,223.1 L124.3,220.8 L124.8,218.5 L125.3,216.2 L125.8,214.0 L126.4,211.7 L127.0,209.5 L127.7,207.2 L128.3,205.0 L129.0,202.8 L129.8,200.6 L130.6,198.5 L131.5,196.3 L132.4,194.2 L133.3,192.1 L134.3,190.0 L135.4,188.0 L136.5,186.0 L137.7,184.0 L139.0,182.0 L140.3,180.2 L141.7,178.4 L143.1,176.8 L144.6,175.3 L146.2,174.0 L147.9,172.9 L149.6,172.0 L151.4,171.2 L153.2,170.5 L155.0,170.0 L157.0,169.8 L158.9,169.7 L160.9,169.8 L162.9,170.0 L164.9,170.4 L167.0,170.9 L169.1,171.6 L171.2,172.3 L173.3,173.1 L175.4,174.0 L177.6,174.9 L179.7,175.9 L181.9,176.9 L184.0,177.9 L186.2,178.9 L188.3,179.9 L190.5,180.9 L192.6,181.8 L194.8,182.8 L196.9,183.7 L199.1,184.6 L201.2,185.5 L203.3,186.4 L205.5,187.3 L207.6,188.2 L209.7,189.1 L211.8,189.9 L214.0,190.8 L216.1,191.6 L218.2,192.5 L220.3,193.3 L222.5,194.1 L224.6,194.9 L226.7,195.7 L228.8,196.4 L230.9,197.2 L233.1,198.0 L235.2,198.7 L237.3,199.4 L239.4,200.2 L241.6,200.9 L243.7,201.6 L245.8,202.3 L247.9,203.0 L250.1,203.7 L252.2,204.3 L254.3,205.0 L256.4,205.7 L258.6,206.3 L260.7,207.0 L262.9,207.6 L265.0,208.2 L267.1,208.8 L269.3,209.4 L271.4,210.0 L273.6,210.6 L275.7,211.2 L277.9,211.8 L280.1,212.4 L282.2,213.0 L284.4,213.5 L286.6,214.1 L288.7,214.6 L290.9,215.2 L293.1,215.7 L295.3,216.3 L297.5,216.8 L299.7,217.3 L301.9,217.8 L304.1,218.4 L306.3,218.9 L308.5,219.4 L310.7,219.9 L312.9,220.4 L315.1,220.9 L317.3,221.4 L319.6,221.9 L321.8,222.3 L324.0,222.8 L326.2,223.3 L328.5,223.8 L330.7,224.2 L332.9,224.7 L335.2,225.1 L337.4,225.6 L339.6,226.1 L341.9,226.5 L344.1,226.9 L346.3,227.4 L348.6,227.8 L350.8,228.3 L353.1,228.7 L355.3,229.1 L357.6,229.6 L359.8,230.0 L362.1,230.4 L364.3,230.9 L366.6,231.3 L368.8,231.7 L371.1,232.1 L373.3,232.5 L375.6,233.0 L377.8,233.4 L380.1,233.8 L382.3,234.2 L384.6,234.6 L386.8,235.0 L389.1,235.4 L391.3,235.9 L393.6,236.3 L395.8,236.7 L398.1,237.1 L400.3,237.5 L402.5,237.9 L404.8,238.3 L407.0,238.7 L409.3,239.2 L411.5,239.6 L413.8,240.0 L416.0,240.4 L418.2,240.8 L420.5,241.2 L422.7,241.6 L424.9,242.1 L427.1,242.5 L429.4,242.9 L431.6,243.3 L433.8,243.8 L436.0,244.2 L438.2,244.6 L440.4,245.1 L442.7,245.5 L444.9,245.9 L447.1,246.4 L449.3,246.8 L451.5,247.3 L453.7,247.7 L455.8,248.2 L458.0,248.6 L460.2,249.1 L462.4,249.5 L464.6,250.0 L466.7,250.5 L468.9,251.0 L471.1,251.4 L473.2,251.9 L475.4,252.4 L477.5,252.9 L479.7,253.4 L481.8,253.9 L484.0,254.4 L486.1,254.9 L488.2,255.4 L490.4,256.0 L492.5,256.5 L494.6,257.0 L496.7,257.6 L498.8,258.1 L498.8,258.1 L498.8,308.0 L498.8,308.0 L496.7,307.0 L494.6,305.9 L492.5,304.9 L490.4,303.8 L488.2,302.8 L486.1,301.8 L484.0,300.8 L481.8,299.8 L479.7,298.9 L477.5,297.9 L475.4,297.0 L473.2,296.1 L471.1,295.1 L468.9,294.2 L466.7,293.3 L464.6,292.5 L462.4,291.6 L460.2,290.7 L458.0,289.9 L455.8,289.1 L453.7,288.2 L451.5,287.4 L449.3,286.6 L447.1,285.8 L444.9,285.1 L442.7,284.3 L440.4,283.5 L438.2,282.8 L436.0,282.0 L433.8,281.3 L431.6,280.6 L429.4,279.8 L427.1,279.1 L424.9,278.4 L422.7,277.7 L420.5,277.0 L418.2,276.3 L416.0,275.7 L413.8,275.0 L411.5,274.3 L409.3,273.7 L407.0,273.0 L404.8,272.4 L402.5,271.8 L400.3,271.1 L398.1,270.5 L395.8,269.9 L393.6,269.3 L391.3,268.7 L389.1,268.1 L386.8,267.5 L384.6,266.9 L382.3,266.3 L380.1,265.7 L377.8,265.1 L375.6,264.5 L373.3,263.9 L371.1,263.3 L368.8,262.8 L366.6,262.2 L364.3,261.6 L362.1,261.0 L359.8,260.5 L357.6,259.9 L355.3,259.3 L353.1,258.8 L350.8,258.2 L348.6,257.7 L346.3,257.1 L344.1,256.5 L341.9,256.0 L339.6,255.4 L337.4,254.8 L335.2,254.3 L332.9,253.7 L330.7,253.1 L328.5,252.6 L326.2,252.0 L324.0,251.4 L321.8,250.8 L319.6,250.3 L317.3,249.7 L315.1,249.1 L312.9,248.5 L310.7,247.9 L308.5,247.3 L306.3,246.7 L304.1,246.1 L301.9,245.5 L299.7,244.9 L297.5,244.3 L295.3,243.6 L293.1,243.0 L290.9,242.4 L288.7,241.7 L286.6,241.1 L284.4,240.5 L282.2,239.8 L280.1,239.1 L277.9,238.5 L275.7,237.8 L273.6,237.1 L271.4,236.4 L269.3,235.7 L267.1,235.0 L265.0,234.3 L262.9,233.5 L260.7,232.8 L258.6,232.0 L256.4,231.3 L254.3,230.5 L252.2,229.7 L250.1,228.9 L247.9,228.1 L245.8,227.3 L243.7,226.4 L241.6,225.6 L239.4,224.7 L237.3,223.9 L235.2,223.0 L233.1,222.1 L230.9,221.1 L228.8,220.2 L226.7,219.3 L224.6,218.3 L222.5,217.3 L220.3,216.3 L218.2,215.3 L216.1,214.2 L214.0,213.2 L211.8,212.1 L209.7,211.0 L207.6,209.9 L205.5,208.8 L203.3,207.6 L201.2,206.4 L199.1,205.3 L196.9,204.0 L194.8,202.8 L192.6,201.5 L190.5,200.2 L188.3,198.9 L186.2,197.6 L184.0,196.2 L181.9,194.8 L179.7,193.4 L177.6,192.0 L175.4,190.7 L173.3,189.3 L171.2,188.1 L169.1,186.8 L167.0,185.7 L164.9,184.7 L162.9,183.8 L160.9,183.0 L158.9,182.4 L157.0,181.9 L155.0,181.6 L153.2,181.5 L151.4,181.6 L149.6,182.0 L147.9,182.9 L146.2,184.0 L144.6,185.3 L143.1,186.8 L141.7,188.4 L140.3,190.2 L139.0,192.0 L137.7,194.0 L136.5,196.0 L135.4,198.0 L134.3,200.0 L133.3,202.1 L132.4,204.2 L131.5,206.3 L130.6,208.5 L129.8,210.6 L129.0,212.8 L128.3,215.0 L127.7,217.2 L127.0,219.5 L126.4,221.7 L125.8,224.0 L125.3,226.2 L124.8,228.5 L124.3,230.8 L123.8,233.1 L123.3,235.4 L122.9,237.7 L122.4,240.0 L122.0,242.3 L121.6,244.6 L121.2,246.9 L120.7,249.2 L120.3,251.5 L119.9,253.7 L119.5,256.0 L119.0,258.3 L118.6,260.5 L118.2,262.8 L117.8,265.1 L117.3,267.3 L116.9,269.6 L116.5,271.8 L116.0,274.0Z" fill="#10A848" fill-opacity="0.68"/><path d="M99.1,369.1 L99.6,364.4 L100.2,359.8 L100.8,355.2 L101.4,350.6 L102.1,346.1 L102.8,341.5 L103.5,337.0 L104.2,332.5 L104.9,328.0 L105.7,323.5 L106.5,319.1 L107.3,314.6 L108.1,310.2 L108.9,305.7 L109.8,301.3 L110.6,296.9 L111.5,292.4 L112.3,288.0 L113.2,283.5 L114.1,279.1 L114.9,274.6 L115.8,270.2 L116.7,265.7 L117.5,261.2 L118.4,256.7 L119.3,252.2 L120.1,247.6 L120.9,243.0 L121.8,238.4 L122.6,233.8 L123.5,229.2 L124.5,224.7 L125.6,220.1 L126.7,215.6 L128.0,211.1 L129.4,206.7 L131.0,202.4 L132.8,198.2 L134.8,194.0 L137.1,190.0 L139.6,186.1 L142.4,182.6 L145.4,179.6 L148.7,177.4 L152.3,176.2 L156.0,175.8 L159.9,176.2 L163.9,177.2 L168.0,178.8 L172.2,180.7 L176.5,182.9 L180.8,185.3 L185.1,187.7 L189.4,190.0 L193.7,192.2 L198.0,194.4 L202.3,196.5 L206.5,198.6 L210.8,200.5 L215.0,202.5 L219.3,204.3 L223.5,206.1 L227.8,207.9 L232.0,209.6 L236.2,211.2 L240.5,212.8 L244.7,214.4 L249.0,215.9 L253.3,217.4 L257.5,218.8 L261.8,220.2 L266.1,221.6 L270.4,222.9 L274.7,224.2 L279.0,225.4 L283.3,226.7 L287.7,227.9 L292.0,229.1 L296.4,230.2 L300.8,231.4 L305.2,232.5 L309.6,233.6 L314.0,234.7 L318.4,235.8 L322.9,236.8 L327.3,237.9 L331.8,238.9 L336.3,240.0 L340.7,241.0 L345.2,242.0 L349.7,243.0 L354.2,244.0 L358.7,245.0 L363.2,246.0 L367.7,247.0 L372.2,248.0 L376.7,249.0 L381.2,250.0 L385.7,251.0 L390.2,252.0 L394.7,253.0 L399.2,254.1 L403.7,255.1 L408.2,256.2 L412.6,257.2 L417.1,258.3 L421.6,259.4 L426.0,260.5 L430.5,261.7 L434.9,262.8 L439.3,264.0 L443.8,265.2 L448.2,266.4 L452.6,267.7 L456.9,268.9 L461.3,270.2 L465.7,271.6 L470.0,272.9 L474.3,274.3 L478.6,275.8 L482.9,277.2 L487.2,278.7 L491.4,280.3 L495.6,281.9 L498.8,283.1" stroke="#00A046" stroke-width="3" fill="none" stroke-linejoin="round" stroke-linecap="round"/><path d="M116.1,238.9 L116.5,236.6 L117.0,234.3 L117.4,232.0 L117.9,229.6 L118.3,227.3 L118.8,225.0 L119.2,222.7 L119.6,220.3 L120.1,218.0 L120.5,215.7 L120.9,213.4 L121.4,211.0 L121.8,208.7 L122.2,206.3 L122.6,204.0 L123.1,201.6 L123.5,199.3 L123.9,196.9 L124.3,194.6 L124.7,192.2 L125.1,189.8 L125.5,187.4 L125.9,185.1 L126.3,182.7 L126.8,180.3 L127.3,177.9 L127.8,175.5 L128.3,173.2 L128.9,170.8 L129.5,168.4 L130.2,166.0 L130.9,163.7 L131.7,161.3 L132.6,159.0 L133.5,156.7 L134.6,154.6 L135.8,152.7 L137.1,151.1 L138.6,150.0 L140.3,149.2 L142.1,148.7 L144.0,148.5 L146.0,148.5 L148.1,148.8 L150.2,149.2 L152.3,149.4 L154.5,149.8 L156.6,150.2 L158.7,150.8 L160.8,151.4 L162.9,152.1 L165.0,152.9 L167.0,153.8 L169.1,154.7 L171.1,155.6 L173.1,156.6 L175.2,157.7 L177.2,158.8 L179.2,159.9 L181.2,161.1 L183.3,162.3 L185.3,163.5 L187.3,164.7 L189.3,165.9 L191.4,167.1 L193.4,168.3 L195.4,169.5 L197.5,170.7 L199.5,171.8 L201.6,173.0 L203.7,174.1 L205.8,175.2 L207.9,176.2 L210.0,177.2 L212.1,178.2 L214.2,179.1 L216.4,180.0 L218.6,180.9 L220.7,181.7 L222.9,182.5 L225.1,183.3 L227.3,184.0 L229.5,184.8 L231.7,185.5 L233.9,186.1 L236.2,186.8 L238.4,187.4 L240.7,188.0 L242.9,188.6 L245.2,189.2 L247.4,189.8 L249.7,190.3 L252.0,190.9 L254.3,191.4 L256.5,191.9 L258.8,192.4 L261.1,192.9 L263.4,193.4 L265.7,193.9 L268.0,194.3 L270.3,194.8 L272.6,195.3 L274.9,195.8 L277.2,196.2 L279.5,196.7 L281.8,197.2 L284.1,197.6 L286.4,198.1 L288.7,198.6 L291.0,199.1 L293.3,199.6 L295.6,200.1 L297.9,200.6 L300.2,201.1 L302.5,201.6 L304.8,202.2 L307.1,202.7 L309.4,203.2 L311.7,203.7 L313.9,204.3 L316.2,204.8 L318.5,205.3 L320.8,205.9 L323.1,206.4 L325.4,206.9 L327.7,207.5 L330.0,208.0 L332.2,208.6 L334.5,209.1 L336.8,209.7 L339.1,210.2 L341.4,210.8 L343.7,211.3 L345.9,211.9 L348.2,212.4 L350.5,213.0 L352.8,213.5 L355.1,214.0 L357.3,214.6 L359.6,215.1 L361.9,215.7 L364.2,216.2 L366.5,216.7 L368.8,217.3 L371.0,217.8 L373.3,218.3 L375.6,218.8 L377.9,219.4 L380.2,219.9 L382.4,220.4 L384.7,220.9 L387.0,221.4 L389.3,221.9 L391.6,222.4 L393.9,222.9 L396.2,223.4 L398.4,223.8 L400.7,224.3 L403.0,224.8 L405.3,225.2 L407.6,225.7 L409.9,226.1 L412.2,226.6 L414.5,227.0 L416.8,227.4 L419.1,227.8 L421.3,228.3 L423.6,228.7 L425.9,229.1 L428.2,229.4 L430.5,229.8 L432.8,230.2 L435.1,230.5 L437.4,230.9 L439.7,231.2 L442.0,231.6 L444.4,231.9 L446.7,232.2 L449.0,232.5 L451.3,232.8 L453.6,233.1 L455.9,233.3 L458.2,233.6 L460.5,233.8 L462.9,234.1 L465.2,234.3 L467.5,234.5 L469.8,234.7 L472.1,234.9 L474.5,235.0 L476.8,235.2 L479.1,235.3 L481.5,235.4 L483.8,235.5 L486.1,235.6 L488.5,235.7 L490.8,235.8 L493.1,235.8 L495.5,235.9 L497.8,235.9 L499.0,235.9 L499.0,289.6 L497.8,289.3 L495.5,288.7 L493.1,288.0 L490.8,287.4 L488.5,286.7 L486.1,286.1 L483.8,285.4 L481.5,284.7 L479.1,284.1 L476.8,283.4 L474.5,282.7 L472.1,282.1 L469.8,281.4 L467.5,280.7 L465.2,280.0 L462.9,279.4 L460.5,278.7 L458.2,278.0 L455.9,277.3 L453.6,276.6 L451.3,275.9 L449.0,275.2 L446.7,274.6 L444.4,273.9 L442.0,273.2 L439.7,272.5 L437.4,271.8 L435.1,271.1 L432.8,270.4 L430.5,269.7 L428.2,269.0 L425.9,268.3 L423.6,267.6 L421.3,266.9 L419.1,266.2 L416.8,265.4 L414.5,264.7 L412.2,264.0 L409.9,263.3 L407.6,262.6 L405.3,261.9 L403.0,261.2 L400.7,260.5 L398.4,259.8 L396.2,259.1 L393.9,258.4 L391.6,257.7 L389.3,257.0 L387.0,256.3 L384.7,255.6 L382.4,254.9 L380.2,254.1 L377.9,253.4 L375.6,252.7 L373.3,252.0 L371.0,251.3 L368.8,250.6 L366.5,250.0 L364.2,249.3 L361.9,248.6 L359.6,247.9 L357.3,247.2 L355.1,246.5 L352.8,245.8 L350.5,245.1 L348.2,244.4 L345.9,243.8 L343.7,243.1 L341.4,242.4 L339.1,241.7 L336.8,241.1 L334.5,240.4 L332.2,239.7 L330.0,239.1 L327.7,238.4 L325.4,237.8 L323.1,237.1 L320.8,236.5 L318.5,235.8 L316.2,235.2 L313.9,234.5 L311.7,233.9 L309.4,233.3 L307.1,232.6 L304.8,232.0 L302.5,231.4 L300.2,230.8 L297.9,230.2 L295.6,229.5 L293.3,228.9 L291.0,228.3 L288.7,227.7 L286.4,227.2 L284.1,226.6 L281.8,226.0 L279.5,225.4 L277.2,224.8 L274.9,224.2 L272.6,223.7 L270.3,223.1 L268.0,222.5 L265.7,221.9 L263.4,221.3 L261.1,220.7 L258.8,220.1 L256.5,219.4 L254.3,218.8 L252.0,218.1 L249.7,217.4 L247.4,216.7 L245.2,216.0 L242.9,215.3 L240.7,214.5 L238.4,213.8 L236.2,212.9 L233.9,212.1 L231.7,211.3 L229.5,210.4 L227.3,209.5 L225.1,208.5 L222.9,207.5 L220.7,206.5 L218.6,205.4 L216.4,204.4 L214.2,203.2 L212.1,202.0 L210.0,200.8 L207.9,199.6 L205.8,198.3 L203.7,196.9 L201.6,195.5 L199.5,194.1 L197.5,192.6 L195.4,191.1 L193.4,189.6 L191.4,188.1 L189.3,186.5 L187.3,184.9 L185.3,183.4 L183.3,181.8 L181.2,180.2 L179.2,178.7 L177.2,177.1 L175.2,175.6 L173.1,174.0 L171.1,172.6 L169.1,171.1 L167.0,169.7 L165.0,168.3 L162.9,166.9 L160.8,165.6 L158.7,164.4 L156.6,163.2 L154.5,162.0 L152.3,161.0 L150.2,160.0 L148.1,159.5 L146.0,159.3 L144.0,159.2 L142.1,159.4 L140.3,159.9 L138.6,160.7 L137.1,161.9 L135.8,163.4 L134.6,165.3 L133.5,167.4 L132.6,169.7 L131.7,172.1 L130.9,174.4 L130.2,176.8 L129.5,179.2 L128.9,181.5 L128.3,183.9 L127.8,186.3 L127.3,188.7 L126.8,191.1 L126.3,193.4 L125.9,195.8 L125.5,198.2 L125.1,200.6 L124.7,202.9 L124.3,205.3 L123.9,207.7 L123.5,210.0 L123.1,212.4 L122.6,214.7 L122.2,217.1 L121.8,219.4 L121.4,221.8 L120.9,224.1 L120.5,226.4 L120.1,228.8 L119.6,231.1 L119.2,233.4 L118.8,235.7 L118.3,238.1 L117.9,240.4 L117.4,242.7 L117.0,245.0 L116.5,247.3 L116.1,249.6Z" fill="#6C9CF8" fill-opacity="0.6"/><path d="M99.2,358.2 L99.5,353.3 L99.8,348.6 L100.2,343.8 L100.7,339.0 L101.2,334.3 L101.7,329.6 L102.3,324.9 L102.9,320.2 L103.5,315.5 L104.2,310.8 L104.9,306.2 L105.6,301.6 L106.3,296.9 L107.1,292.3 L107.9,287.7 L108.7,283.1 L109.5,278.5 L110.4,273.9 L111.2,269.2 L112.1,264.6 L113.0,260.0 L113.9,255.4 L114.7,250.8 L115.6,246.2 L116.5,241.6 L117.4,237.0 L118.3,232.3 L119.2,227.7 L120.1,223.0 L120.9,218.4 L121.8,213.7 L122.6,209.0 L123.5,204.3 L124.3,199.6 L125.1,194.8 L125.9,190.1 L126.8,185.3 L127.8,180.5 L128.9,175.8 L130.2,171.0 L131.7,166.3 L133.5,161.7 L135.8,157.7 L138.6,155.0 L142.1,153.7 L146.0,153.5 L150.2,154.2 L154.5,155.5 L158.7,157.1 L162.9,159.0 L167.0,161.2 L171.1,163.5 L175.2,166.0 L179.2,168.6 L183.3,171.3 L187.3,174.1 L191.4,176.8 L195.4,179.6 L199.5,182.2 L203.7,184.7 L207.9,187.1 L212.1,189.3 L216.4,191.3 L220.7,193.2 L225.1,195.0 L229.5,196.7 L233.9,198.2 L238.4,199.7 L242.9,201.0 L247.4,202.3 L252.0,203.5 L256.5,204.7 L261.1,205.8 L265.7,206.9 L270.3,208.0 L274.9,209.0 L279.5,210.1 L284.1,211.1 L288.7,212.2 L293.3,213.3 L297.9,214.4 L302.5,215.5 L307.1,216.6 L311.7,217.8 L316.2,218.9 L320.8,220.1 L325.4,221.3 L330.0,222.5 L334.5,223.7 L339.1,224.9 L343.7,226.1 L348.2,227.3 L352.8,228.5 L357.3,229.7 L361.9,231.0 L366.5,232.2 L371.0,233.4 L375.6,234.6 L380.2,235.8 L384.7,237.0 L389.3,238.2 L393.9,239.4 L398.4,240.6 L403.0,241.7 L407.6,242.9 L412.2,244.0 L416.8,245.1 L421.3,246.2 L425.9,247.3 L430.5,248.4 L435.1,249.4 L439.7,250.4 L444.4,251.4 L449.0,252.4 L453.6,253.3 L458.2,254.2 L462.9,255.1 L467.5,256.0 L472.1,256.8 L476.8,257.6 L481.5,258.4 L486.1,259.1 L490.8,259.8 L495.5,260.4 L499.0,260.9" stroke="#4A80D0" stroke-width="3" fill="none" stroke-linejoin="round" stroke-linecap="round"/>
</g>
<line x1="79.34" y1="303" x2="517" y2="303" stroke="#000" stroke-width="2" stroke-dasharray="6.3 6.28"/>
<rect x="79.6" y="73.3" width="439.2" height="369.4" fill="none" stroke="#000" stroke-width="2.3"/>
<g fill="#000" stroke="#000" stroke-width="0.2" filter="url(#soft)"><text transform="translate(51.7,430.8) scale(1.12,1)" text-anchor="end" font-size="16">10</text><text transform="translate(65.6,423.9) scale(1.0,1)" text-anchor="end" font-size="11.8">−2</text><line x1="73.3" y1="425.50" x2="78.5" y2="425.50" stroke="#000" stroke-width="1.6"/><text transform="translate(58.5,349.1) scale(1.12,1)" text-anchor="end" font-size="16">10</text><text transform="translate(65.6,342.1) scale(1.0,1)" text-anchor="end" font-size="11.8">0</text><line x1="73.3" y1="343.75" x2="78.5" y2="343.75" stroke="#000" stroke-width="1.6"/><text transform="translate(58.5,267.3) scale(1.12,1)" text-anchor="end" font-size="16">10</text><text transform="translate(65.6,260.4) scale(1.0,1)" text-anchor="end" font-size="11.8">2</text><line x1="73.3" y1="262.00" x2="78.5" y2="262.00" stroke="#000" stroke-width="1.6"/><text transform="translate(58.5,185.6) scale(1.12,1)" text-anchor="end" font-size="16">10</text><text transform="translate(65.6,178.7) scale(1.0,1)" text-anchor="end" font-size="11.8">4</text><line x1="73.3" y1="180.25" x2="78.5" y2="180.25" stroke="#000" stroke-width="1.6"/><text transform="translate(58.5,103.8) scale(1.12,1)" text-anchor="end" font-size="16">10</text><text transform="translate(65.6,96.9) scale(1.0,1)" text-anchor="end" font-size="11.8">6</text><line x1="73.3" y1="98.50" x2="78.5" y2="98.50" stroke="#000" stroke-width="1.6"/><text transform="translate(99.4,471) scale(1.13,1)" text-anchor="middle" font-size="16">0</text><line x1="99" y1="444" x2="99" y2="449.3" stroke="#000" stroke-width="1.6"/><text transform="translate(199.4,471) scale(1.13,1)" text-anchor="middle" font-size="16">25</text><line x1="199" y1="444" x2="199" y2="449.3" stroke="#000" stroke-width="1.6"/><text transform="translate(299.4,471) scale(1.13,1)" text-anchor="middle" font-size="16">50</text><line x1="299" y1="444" x2="299" y2="449.3" stroke="#000" stroke-width="1.6"/><text transform="translate(399.4,471) scale(1.13,1)" text-anchor="middle" font-size="16">75</text><line x1="399" y1="444" x2="399" y2="449.3" stroke="#000" stroke-width="1.6"/><text transform="translate(499.4,471) scale(1.13,1)" text-anchor="middle" font-size="16">100</text><line x1="499" y1="444" x2="499" y2="449.3" stroke="#000" stroke-width="1.6"/></g>
<g filter="url(#soft)" stroke="#000" stroke-width="0.15"><g font-size="16.8"><text transform="translate(200.83,15.6) scale(1.018,1)">Peak</text><text transform="translate(243.6,15.6) scale(1.11,1)">IL-15</text><text transform="translate(293.4,15.6)">(log</text><text transform="translate(324.2,20.7) scale(1.04,1)" font-size="13">10</text><text transform="translate(344.8,15.6) scale(1.083,1)">pg/µL)</text></g></g>
<rect x="111.2" y="35" width="25" height="24.6" fill="#D9D9D9"/><line x1="113.2" y1="47.4" x2="134.2" y2="47.4" stroke="#E8605E" stroke-width="2.6"/><text filter="url(#soft)" stroke="#000" stroke-width="0.15" transform="translate(142.86,52.4) scale(1.14,1)" font-size="14.5">(0.52, 1.59)</text><rect x="243.5" y="35" width="25" height="24.6" fill="#D9D9D9"/><line x1="245.5" y1="47.4" x2="266.5" y2="47.4" stroke="#00A046" stroke-width="2.6"/><text filter="url(#soft)" stroke="#000" stroke-width="0.15" transform="translate(275.56,52.4) scale(1.14,1)" font-size="14.5">(1.59, 1.93)</text><rect x="375.8" y="35" width="25" height="24.6" fill="#D9D9D9"/><line x1="377.8" y1="47.4" x2="398.8" y2="47.4" stroke="#4A80D0" stroke-width="2.6"/><text filter="url(#soft)" stroke="#000" stroke-width="0.15" transform="translate(406.56,52.4) scale(1.14,1)" font-size="14.5">(1.93, 2.84)</text>
<text filter="url(#soft)" stroke="#000" stroke-width="0.4" transform="translate(202.5,500) scale(0.74,1)" font-size="19.5">Days after CAR-T cell infusion</text>
<text filter="url(#soft)" stroke="#000" stroke-width="0.4" transform="translate(17.9,424.7) rotate(-90) scale(0.7254,1)" font-size="20">CAR transgene in blood (transgene copies/µg DNA)</text>
</svg>
</body></html>
